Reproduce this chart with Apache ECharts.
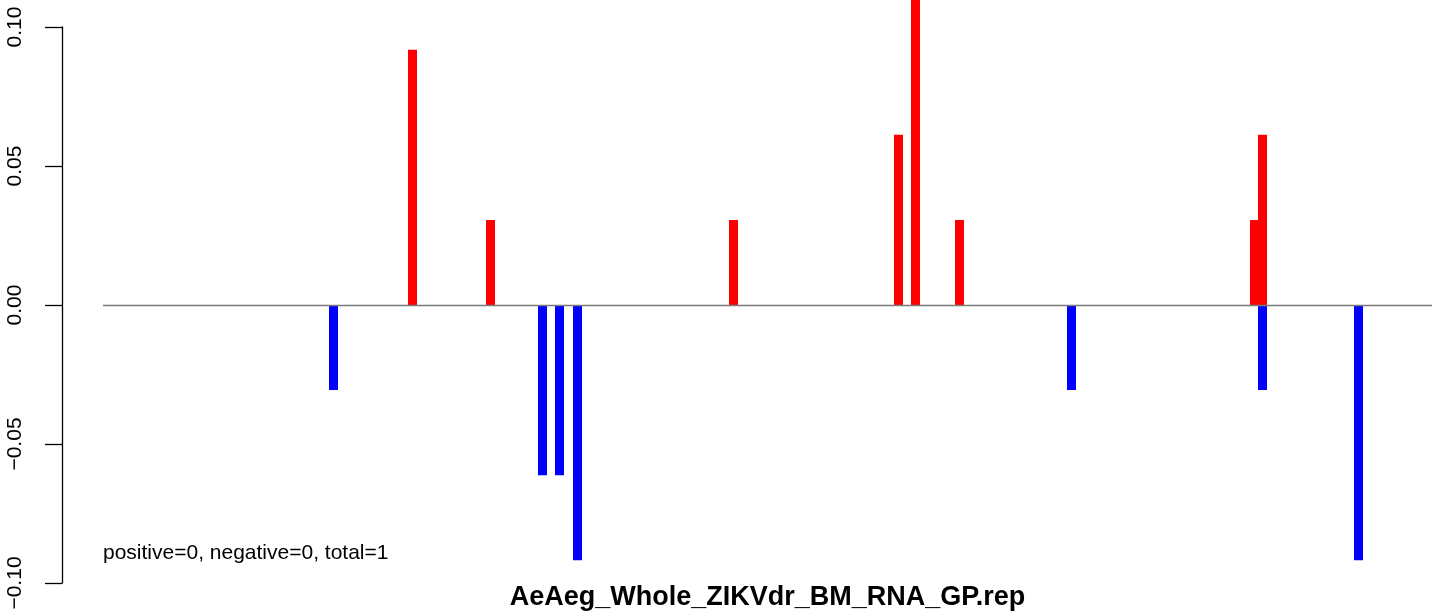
<!DOCTYPE html>
<html>
<head>
<meta charset="utf-8">
<script src="https://cdn.jsdelivr.net/npm/echarts@6/dist/echarts.min.js"></script>
<style>
html,body{margin:0;padding:0;background:#fff;}
#chart{width:1444px;height:616px;}
</style>
</head>
<body>
<div id="chart"></div>
<script>
// Positions along the plot (arbitrary position units)
const posX = [309.5, 387.5, 630.5, 795.5, 812.5, 856.5, 1151.5, 1159.5];
const posY = [0.0918, 0.0306, 0.0306, 0.0612, 0.1224, 0.0306, 0.0306, 0.0612];
const negX = [230.5, 439.5, 456.5, 474.5, 968.5, 1159.5, 1255.5];
const negY = [-0.0306, -0.0612, -0.0612, -0.0918, -0.0306, -0.0306, -0.0918];
const yTicks = [-0.10, -0.05, 0.00, 0.05, 0.10];
const xRange = [0, 1329];
const titleText = 'AeAeg_Whole_ZIKVdr_BM_RNA_GP.rep';
const noteText = 'positive=0, negative=0, total=1';

const FONT = '"Liberation Sans", Arial, Helvetica, sans-serif';
const chart = echarts.init(document.getElementById('chart'), null, {renderer: 'canvas'});

const posData = posX.map((x, i) => [x, posY[i]]);
const negData = negX.map((x, i) => [x, negY[i]]);

chart.setOption({
  animation: false,
  backgroundColor: '#ffffff',
  grid: {left: 103, right: 12, top: 27, bottom: 33, containLabel: false, outerBoundsMode: 'none'},
  xAxis: {
    type: 'value',
    min: xRange[0],
    max: xRange[1],
    axisLine: {show: false},
    axisTick: {show: false},
    axisLabel: {show: false},
    splitLine: {show: false},
    name: titleText,
    nameLocation: 'middle',
    nameGap: 1,
    nameMoveOverlap: false,
    nameTextStyle: {fontFamily: FONT, fontSize: 27, fontWeight: 'bold', color: '#000'}
  },
  yAxis: {
    type: 'value',
    min: yTicks[0],
    max: yTicks[yTicks.length - 1],
    interval: 0.05,
    offset: 41,
    axisLine: {show: true, onZero: false, lineStyle: {color: '#000', width: 1.3}},
    axisTick: {show: true, length: 17, lineStyle: {color: '#000', width: 1.3}},
    axisLabel: {
      rotate: 90,
      margin: 36,
      fontFamily: FONT,
      fontSize: 21,
      color: '#000',
      formatter: v => v.toFixed(2).replace('-', '\u2212')
    },
    splitLine: {show: false}
  },
  series: [
    {
      type: 'bar',
      name: 'positive',
      data: posData,
      barWidth: 9,
      barGap: '-100%',
      clip: false,
      itemStyle: {color: '#ff0000'},
      markLine: {
        silent: true,
        symbol: 'none',
        label: {show: false},
        lineStyle: {color: '#7a7a7a', width: 1.3, type: 'solid'},
        data: [{yAxis: 0}]
      }
    },
    {
      type: 'bar',
      name: 'negative',
      data: negData,
      barWidth: 9,
      barGap: '-100%',
      clip: false,
      itemStyle: {color: '#0000ff'}
    }
  ],
  graphic: [
    {
      type: 'text',
      left: 103,
      top: 543,
      style: {text: noteText, font: '21px ' + FONT, fill: '#000'}
    }
  ]
});
</script>
</body>
</html>
